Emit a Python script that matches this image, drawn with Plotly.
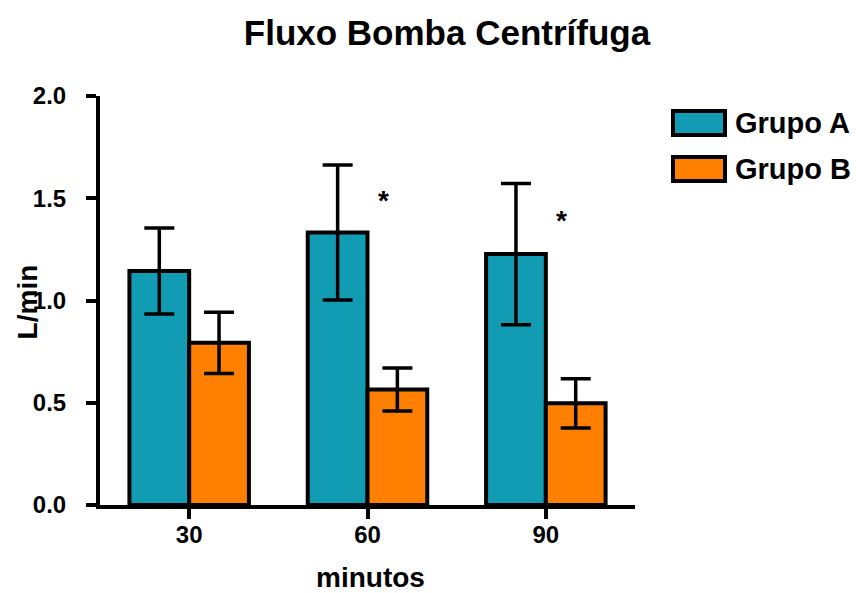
import plotly.graph_objects as go

categories = ["30", "60", "90"]
grupo_a = [1.144, 1.333, 1.227]
grupo_a_err = [0.21, 0.33, 0.345]
grupo_b = [0.793, 0.565, 0.497]
grupo_b_err = [0.15, 0.105, 0.12]
y_ticks = [0.0, 0.5, 1.0, 1.5, 2.0]
y_tick_labels = ["0.0", "0.5", "1.0", "1.5", "2.0"]
signif_idx = [1, 2]
signif_y = [1.49, 1.39]

TEAL = "#129CB4"
ORANGE = "#FF8000"
FONT = "Liberation Sans, Arial, sans-serif"

fig = go.Figure()
for name, vals, errs, col in [("Grupo A", grupo_a, grupo_a_err, TEAL),
                              ("Grupo B", grupo_b, grupo_b_err, ORANGE)]:
    fig.add_trace(go.Bar(
        name=name, x=categories, y=vals,
        marker=dict(color=col, line=dict(color="black", width=4)),
        error_y=dict(type="data", array=errs, visible=True, color="black",
                     thickness=3.5, width=15),
        showlegend=False,
    ))

annotations = []
for i, yv in zip(signif_idx, signif_y):
    annotations.append(dict(x=i + 0.09, y=yv, xref="x", yref="y", text="*",
                            showarrow=False,
                            font=dict(family=FONT, size=28, color="black", weight="bold")))

annotations.append(dict(x=0.505, y=-0.178, xref="paper", yref="paper", text="minutos",
                        xanchor="center", yanchor="middle", showarrow=False,
                        font=dict(family=FONT, size=28, color="black", weight="bold")))
annotations.append(dict(x=-0.136, y=0.496, xref="paper", yref="paper", text="L/min", textangle=-90,
                        xanchor="center", yanchor="middle", showarrow=False,
                        font=dict(family=FONT, size=28, color="black", weight="bold")))

# manual legend
W, H = 856, 593
L, R, T, B = 100, 221, 96, 88
pw, ph = W - L - R, H - T - B
def px2paper(x, y):
    return (x - L) / pw, (H - B - y) / ph

shapes = []
for (name, col, ytop) in [("Grupo A", TEAL, 111), ("Grupo B", ORANGE, 157)]:
    x0, y0 = px2paper(673, ytop)
    x1, y1 = px2paper(725, ytop + 24)
    shapes.append(dict(type="rect", xref="paper", yref="paper", x0=x0, x1=x1, y0=y1, y1=y0,
                       fillcolor=col, line=dict(color="black", width=4)))
    tx, ty = px2paper(733, ytop + 12)
    annotations.append(dict(x=tx, y=ty, xref="paper", yref="paper", text=name, xanchor="left",
                            yanchor="middle", showarrow=False,
                            font=dict(family=FONT, size=29, color="black", weight="bold")))

fig.update_layout(
    width=W, height=H,
    margin=dict(l=L, r=R, t=T, b=B),
    paper_bgcolor="white", plot_bgcolor="white",
    barmode="group", bargap=0.33, bargroupgap=0,
    title=dict(text="Fluxo Bomba Centrífuga", x=447 / W, xref="container", xanchor="center",
               y=1 - 33 / H, yref="container", yanchor="middle",
               font=dict(family=FONT, size=35, color="black", weight="bold")),
    annotations=annotations,
    shapes=shapes,
    xaxis=dict(range=[-0.5, 2.5], showline=True, linecolor="black", linewidth=4,
               ticks="outside", ticklen=10, tickwidth=4, tickcolor="black",
               tickfont=dict(family=FONT, size=24, color="black", weight="bold"),
               ticklabelstandoff=-5,
               showgrid=False, zeroline=False),
    yaxis=dict(range=[0, 2.0], tickvals=y_ticks, ticktext=y_tick_labels,
               showline=True, linecolor="black", linewidth=4,
               ticks="outside", ticklen=10, tickwidth=4, tickcolor="black",
               tickfont=dict(family=FONT, size=24, color="black", weight="bold"),
               ticklabelstandoff=15,
               showgrid=False, zeroline=False),
)

fig.write_html("out.html", config={"displayModeBar": False},
               post_script="document.body.style.margin='0px';")
